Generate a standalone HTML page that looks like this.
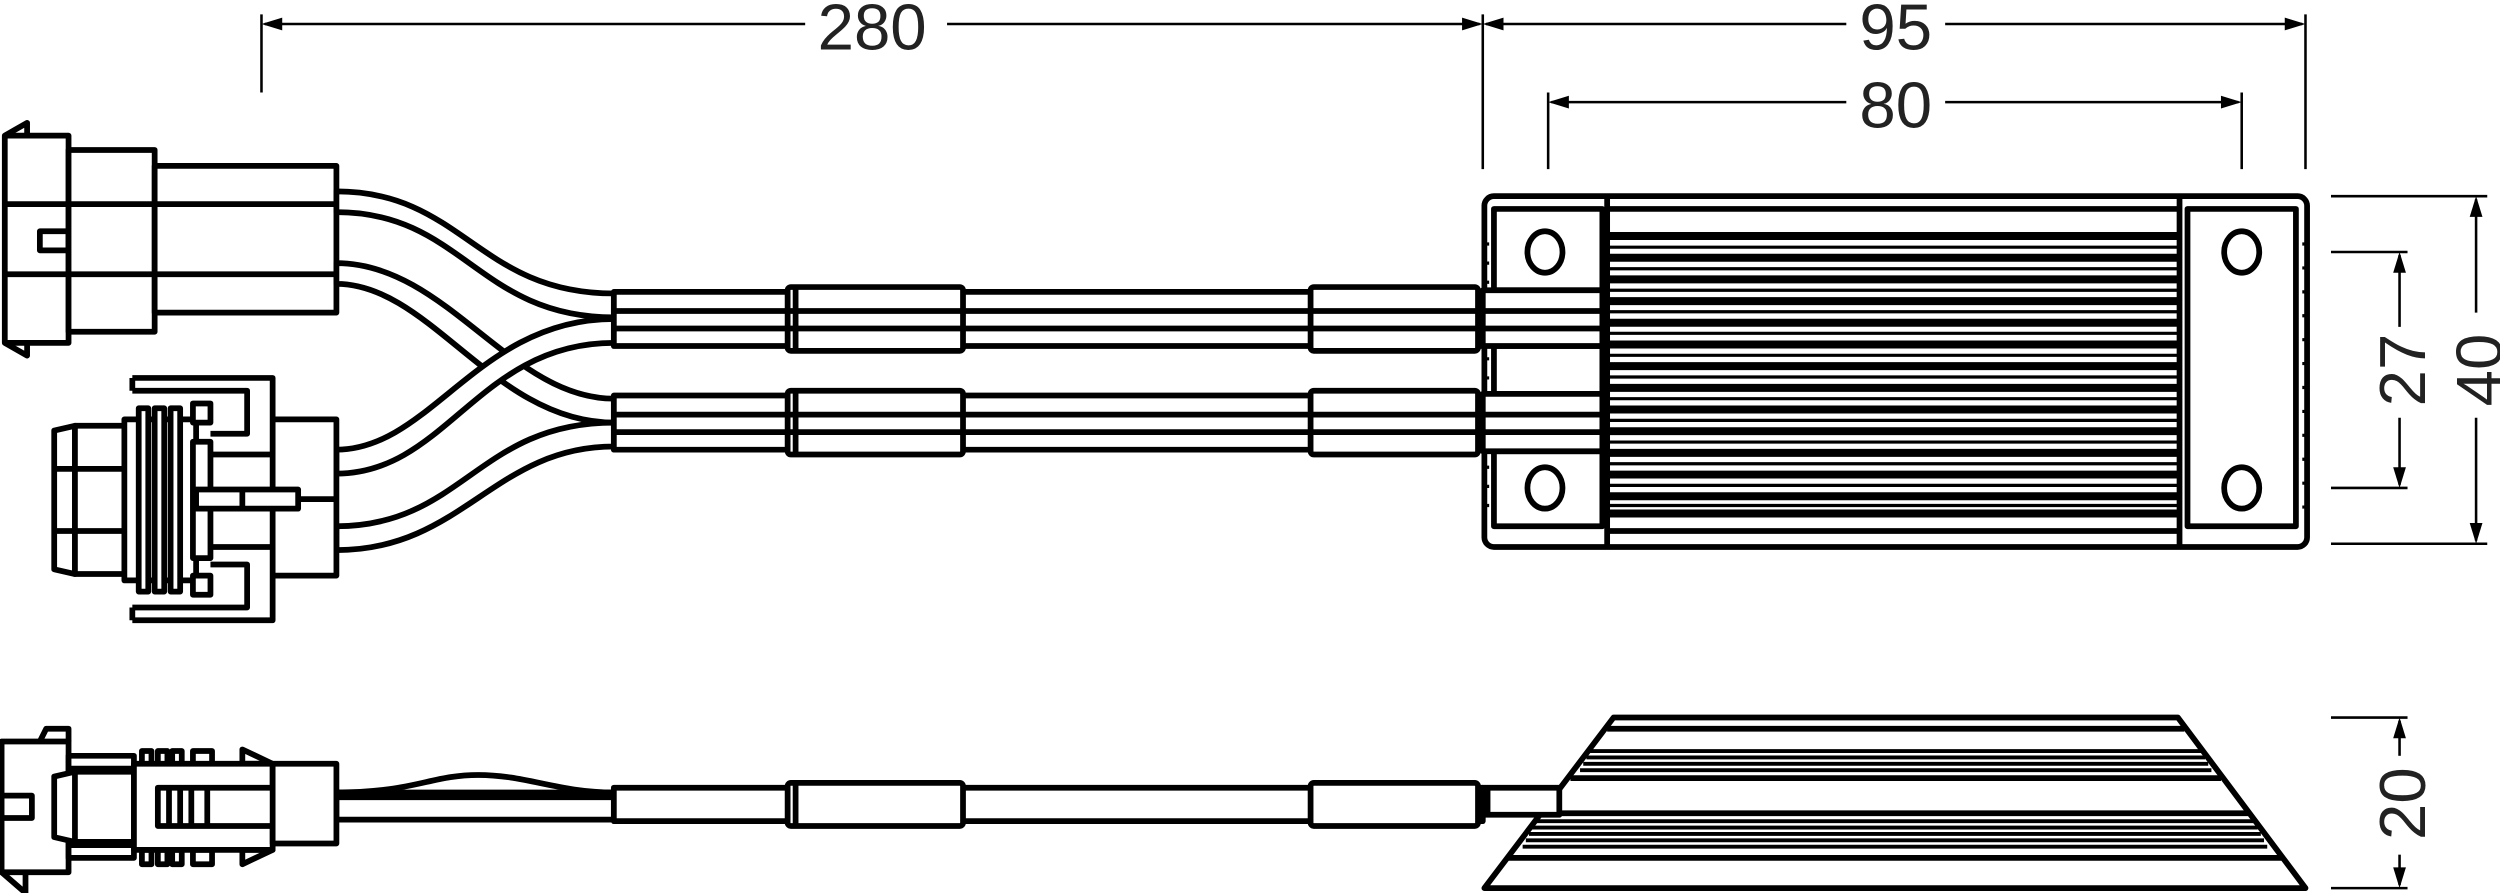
<!DOCTYPE html>
<html><head><meta charset="utf-8"><style>
html,body{margin:0;padding:0;background:#fff;}
svg{display:block;}
text{font-family:"Liberation Sans",sans-serif;font-size:41px;fill:#222;}
</style></head><body>
<svg width="2500" height="893" viewBox="0 0 1568 560" xmlns="http://www.w3.org/2000/svg">
<g fill="none" stroke="#000" stroke-width="3.6" stroke-linejoin="round">
<!-- dimension lines -->
<g stroke-width="1.6">
<line x1="164" y1="9" x2="164" y2="58"/>
<line x1="930" y1="9" x2="930" y2="106"/>
<line x1="1446" y1="9" x2="1446" y2="106"/>
<line x1="971" y1="58" x2="971" y2="106"/>
<line x1="1406" y1="58" x2="1406" y2="106"/>
<line x1="166" y1="15" x2="505" y2="15"/><line x1="594" y1="15" x2="928" y2="15"/>
<line x1="932" y1="15" x2="1158" y2="15"/><line x1="1220" y1="15" x2="1444" y2="15"/>
<line x1="973" y1="64" x2="1158" y2="64"/><line x1="1220" y1="64" x2="1404" y2="64"/>
<line x1="1462" y1="123" x2="1560" y2="123"/>
<line x1="1462" y1="341" x2="1560" y2="341"/>
<line x1="1462" y1="158" x2="1510" y2="158"/>
<line x1="1462" y1="306" x2="1510" y2="306"/>
<line x1="1553" y1="125" x2="1553" y2="196"/><line x1="1553" y1="262" x2="1553" y2="339"/>
<line x1="1505" y1="160" x2="1505" y2="205"/><line x1="1505" y1="262" x2="1505" y2="304"/>
<line x1="1462" y1="450" x2="1510" y2="450"/>
<line x1="1462" y1="557" x2="1510" y2="557"/>
<line x1="1505" y1="452" x2="1505" y2="474"/><line x1="1505" y1="536" x2="1505" y2="555"/>
</g>
<g fill="#000" stroke="none">
<polygon points="164,15 177,11 177,19"/><polygon points="930,15 917,11 917,19"/>
<polygon points="930,15 943,11 943,19"/><polygon points="1446,15 1433,11 1433,19"/>
<polygon points="971,64 984,60 984,68"/><polygon points="1406,64 1393,60 1393,68"/>
<polygon points="1553,123 1549,136 1557,136"/><polygon points="1553,341 1549,328 1557,328"/>
<polygon points="1505,158 1501,171 1509,171"/><polygon points="1505,306 1501,293 1509,293"/>
<polygon points="1505,450 1501,463 1509,463"/><polygon points="1505,557 1501,544 1509,544"/>
</g>

<!-- top connector -->
<rect x="3" y="85" width="40" height="130" fill="#fff"/>
<polyline points="3,85 17,77 17,85"/><polyline points="3,215 17,223 17,215"/>
<line x1="3" y1="128" x2="43" y2="128"/><line x1="3" y1="172" x2="43" y2="172"/>
<rect x="25" y="145" width="18" height="12"/>
<rect x="43" y="94" width="54" height="114" fill="#fff"/>
<line x1="43" y1="128" x2="97" y2="128"/><line x1="43" y1="172" x2="97" y2="172"/>
<rect x="97" y="104" width="114" height="92" fill="#fff"/>
<line x1="97" y1="128" x2="211" y2="128"/><line x1="97" y1="172" x2="211" y2="172"/>

<!-- wires -->
<path d="M211,120 C290,120 300,184 385,184 L385,199 C300,199 290,133 211,133 Z" fill="#fff"/>
<path d="M211,165 C280,165 320,250 385,250 L385,265 C310,265 270,178 211,178 Z" fill="#fff"/>
<path d="M211,282 C270,282 300,200 385,200 L385,215 C300,215 280,297 211,297 Z" fill="#fff"/>
<path d="M211,330 C290,330 300,265 385,265 L385,280 C310,280 290,345 211,345 Z" fill="#fff"/>

<!-- lower connector -->
<rect x="171" y="263" width="40" height="98" fill="#fff"/>
<line x1="187" y1="313" x2="211" y2="313"/>
<path d="M83,237 H171 V285 H132 M83,245 H155 V272 H132 M83,237 V245" fill="#fff"/>
<path d="M83,389 H171 V343 H132 M83,381 H155 V354 H132 M83,381 V389" fill="#fff"/>
<polygon points="34,270 47,267 47,360 34,357" fill="#fff"/>
<rect x="47" y="267" width="36" height="93" fill="#fff"/>
<line x1="34" y1="294" x2="83" y2="294"/><line x1="34" y1="333" x2="83" y2="333"/>
<rect x="78" y="263" width="45" height="101" fill="#fff"/>
<rect x="87" y="256" width="6" height="115" fill="#fff"/>
<rect x="97" y="256" width="6" height="115" fill="#fff"/>
<rect x="107" y="256" width="6" height="115" fill="#fff"/>
<rect x="121" y="253" width="11" height="12" fill="#fff"/>
<rect x="121" y="361" width="11" height="12" fill="#fff"/>
<rect x="121" y="277" width="11" height="73" fill="#fff"/>
<rect x="123" y="307" width="64" height="12" fill="#fff"/>
<line x1="152" y1="307" x2="152" y2="319"/>

<!-- cables -->
<g id="cab">
<rect x="385" y="183" width="545" height="34" fill="#fff"/>
<line x1="385" y1="195" x2="930" y2="195"/><line x1="385" y1="206" x2="930" y2="206"/>
<rect x="494" y="180" width="110" height="40" rx="2" fill="#fff"/>
<line x1="499" y1="180" x2="499" y2="220"/>
<line x1="494" y1="195" x2="604" y2="195"/><line x1="494" y1="206" x2="604" y2="206"/>
<rect x="822" y="180" width="105" height="40" rx="2" fill="#fff"/>
<line x1="822" y1="195" x2="927" y2="195"/><line x1="822" y1="206" x2="927" y2="206"/>
</g>
<use href="#cab" transform="translate(0,65)"/>

<!-- heatsink top view -->
<rect x="931" y="123" width="516" height="220" rx="6" fill="#fff"/>
<rect x="937" y="131" width="68" height="51" fill="#fff"/>
<rect x="937" y="217" width="68" height="30" fill="#fff"/>
<rect x="937" y="283" width="68" height="47" fill="#fff"/>
<rect x="930" y="182" width="75" height="35" fill="#fff"/>
<line x1="930" y1="195" x2="1005" y2="195"/><line x1="930" y1="206" x2="1005" y2="206"/>
<rect x="930" y="247" width="75" height="36" fill="#fff"/>
<line x1="930" y1="260" x2="1005" y2="260"/><line x1="930" y1="271" x2="1005" y2="271"/>
<ellipse cx="969" cy="158" rx="11" ry="13"/>
<ellipse cx="969" cy="306" rx="11" ry="13"/>
<line x1="1008" y1="123" x2="1008" y2="343"/>
<line x1="1367" y1="123" x2="1367" y2="343"/>
<line x1="1008" y1="131" x2="1367" y2="131"/>
<line x1="1008" y1="333" x2="1367" y2="333"/>
<rect x="1372" y="131" width="68" height="199" fill="#fff"/>
<ellipse cx="1406" cy="158" rx="11" ry="13"/>
<ellipse cx="1406" cy="306" rx="11" ry="13"/>
<g stroke-width="5">
<line x1="1008" y1="148" x2="1367" y2="148"/><line x1="1008" y1="161.6" x2="1367" y2="161.6"/>
<line x1="1008" y1="175.2" x2="1367" y2="175.2"/><line x1="1008" y1="188.8" x2="1367" y2="188.8"/>
<line x1="1008" y1="202.4" x2="1367" y2="202.4"/><line x1="1008" y1="216" x2="1367" y2="216"/>
<line x1="1008" y1="229.6" x2="1367" y2="229.6"/><line x1="1008" y1="243.2" x2="1367" y2="243.2"/>
<line x1="1008" y1="256.8" x2="1367" y2="256.8"/><line x1="1008" y1="270.4" x2="1367" y2="270.4"/>
<line x1="1008" y1="284" x2="1367" y2="284"/><line x1="1008" y1="297.6" x2="1367" y2="297.6"/>
<line x1="1008" y1="311.2" x2="1367" y2="311.2"/><line x1="1008" y1="322" x2="1367" y2="322"/>
</g>
<g stroke-width="2">
<line x1="1008" y1="155" x2="1367" y2="155"/><line x1="1008" y1="168.5" x2="1367" y2="168.5"/>
<line x1="1008" y1="182" x2="1367" y2="182"/><line x1="1008" y1="195.5" x2="1367" y2="195.5"/>
<line x1="1008" y1="209" x2="1367" y2="209"/><line x1="1008" y1="222.8" x2="1367" y2="222.8"/>
<line x1="1008" y1="236.4" x2="1367" y2="236.4"/><line x1="1008" y1="250" x2="1367" y2="250"/>
<line x1="1008" y1="263.6" x2="1367" y2="263.6"/><line x1="1008" y1="277.2" x2="1367" y2="277.2"/>
<line x1="1008" y1="290.8" x2="1367" y2="290.8"/><line x1="1008" y1="304.4" x2="1367" y2="304.4"/>
<line x1="1008" y1="317" x2="1367" y2="317"/>
</g>
<g stroke-width="2">
<path d="M931,153 h3 M931,165 h3 M931,177 h3 M931,225 h3 M931,237 h3 M931,293 h3 M931,305 h3 M931,317 h3"/>
<path d="M1447,153 h-3 M1447,168 h-3 M1447,183 h-3 M1447,198 h-3 M1447,213 h-3 M1447,228 h-3 M1447,243 h-3 M1447,258 h-3 M1447,273 h-3 M1447,288 h-3 M1447,303 h-3 M1447,318 h-3"/>
</g>

<!-- bottom side view -->
<polygon points="1012,450 1366,450 1446,557 931,557" fill="#fff"/>
<g stroke-width="3.6">
<line x1="1008" y1="457" x2="1370" y2="457"/>
<line x1="985" y1="488" x2="1393" y2="488"/>
<line x1="967" y1="510" x2="1410" y2="510"/>
<line x1="945" y1="538" x2="1431" y2="538"/>
</g>
<g stroke-width="2.4">
<line x1="997" y1="471" x2="1381" y2="471"/><line x1="995" y1="475" x2="1383" y2="475"/>
<line x1="993" y1="479" x2="1385" y2="479"/><line x1="991" y1="483" x2="1387" y2="483"/>
<line x1="963" y1="515" x2="1414" y2="515"/><line x1="961" y1="519" x2="1416" y2="519"/>
<line x1="959" y1="523" x2="1418" y2="523"/><line x1="957" y1="527" x2="1420" y2="527"/>
<line x1="955" y1="531" x2="1422" y2="531"/>
</g>
<!-- bottom cable -->
<path d="M211,497 C260,497 270,486 300,486 C330,486 350,497 385,497" fill="#fff"/>
<rect x="211" y="497" width="174" height="17" fill="#fff"/>
<line x1="211" y1="500" x2="385" y2="500"/>
<rect x="385" y="494" width="545" height="21" fill="#fff"/>
<rect x="494" y="491" width="110" height="27" rx="2" fill="#fff"/>
<line x1="499" y1="491" x2="499" y2="518"/>
<rect x="822" y="491" width="105" height="27" rx="2" fill="#fff"/>
<rect x="930" y="494" width="48" height="17" fill="#fff"/>
<line x1="933" y1="494" x2="933" y2="511"/>
<!-- bottom connector -->
<rect x="1" y="465" width="42" height="82" fill="#fff"/>
<polyline points="25,465 29,457 43,457 43,465"/>
<polyline points="1,547 16,560 16,547"/>
<rect x="1" y="499" width="19" height="14" fill="#fff"/>
<rect x="43" y="474" width="41" height="64" fill="#fff"/>
<line x1="43" y1="482" x2="84" y2="482"/><line x1="43" y1="530" x2="84" y2="530"/>
<polygon points="34,487 47,484 47,528 34,525" fill="#fff"/>
<line x1="47" y1="484" x2="84" y2="484"/><line x1="47" y1="528" x2="84" y2="528"/>
<rect x="89" y="471" width="6" height="9" fill="#fff"/><rect x="99" y="471" width="6" height="9" fill="#fff"/>
<rect x="108" y="471" width="6" height="9" fill="#fff"/><rect x="121" y="471" width="12" height="9" fill="#fff"/>
<rect x="89" y="533" width="6" height="9" fill="#fff"/><rect x="99" y="533" width="6" height="9" fill="#fff"/>
<rect x="108" y="533" width="6" height="9" fill="#fff"/><rect x="121" y="533" width="12" height="9" fill="#fff"/>
<polygon points="152,470 171,479 152,479" fill="#fff"/>
<polygon points="152,542 171,533 152,533" fill="#fff"/>
<path d="M84,479 H171 V494 H99 V518 H171 V533 H84 Z" fill="#fff"/>
<rect x="171" y="479" width="40" height="50" fill="#fff"/>
<line x1="106" y1="494" x2="106" y2="518"/><line x1="113" y1="494" x2="113" y2="518"/>
<line x1="120" y1="494" x2="120" y2="518"/><line x1="130" y1="494" x2="130" y2="518"/>
</g>
<text x="547" y="31" text-anchor="middle">280</text>
<text x="1189" y="31" text-anchor="middle">95</text>
<text x="1189" y="80" text-anchor="middle">80</text>
<text transform="translate(1569,232) rotate(-90)" text-anchor="middle">40</text>
<text transform="translate(1521,232) rotate(-90)" text-anchor="middle">27</text>
<text transform="translate(1521,504) rotate(-90)" text-anchor="middle">20</text>
</svg>
</body></html>
